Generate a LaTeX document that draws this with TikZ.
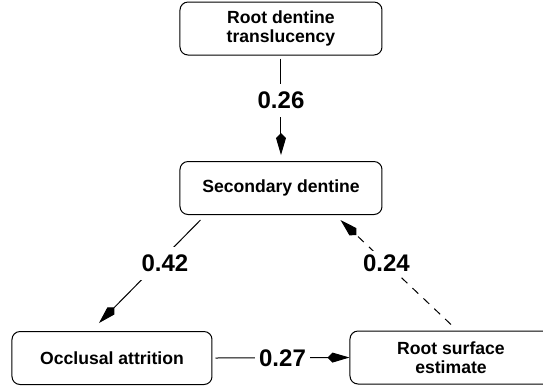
\documentclass[tikz,border=0pt]{standalone}
\usepackage{fontspec}
\setmainfont{Liberation Sans}
\usepackage{tikz}
\usetikzlibrary{positioning, arrows.meta}

\begin{document}
\begin{tikzpicture}[x=0.5pt, y=-0.5pt,
    box/.style={draw, rounded corners=4pt, line width=0.5pt, align=center, inner sep=0pt,
      font=\fontsize{8.8}{9.5}\selectfont\bfseries, minimum height=26.5pt},
    link/.style={line width=0.5pt, -{Kite[length=11pt, width=5pt, inset=2.5pt]}},
    val/.style={fill=white, font=\fontsize{12}{14}\selectfont\bfseries, inner xsep=1.5pt, inner ysep=4pt}]
    \useasboundingbox (0,0) rectangle (543,388);
    % Boxes
    \node[box, minimum width=101pt] (trans) at (281,28.5) {Root dentine\\translucency};
    \node[box, minimum width=101pt] (second) at (281,188) {Secondary dentine};
    \node[box, minimum width=100pt] (occl) at (112,358) {Occlusal attrition};
    \node[box, minimum width=101pt] (surf) at (451,357.5) {Root surface\\estimate};
    % Paths
    \draw[link] ([yshift=-1.5pt]trans.south) -- node[val, pos=0.43]{0.26} ([yshift=3pt]second.north);
    \draw[link] ([xshift=10.5pt, yshift=-2.5pt]second.south west) -- node[val, pos=0.42, xshift=3.5pt]{0.42} ([xshift=-6.5pt, yshift=4pt]occl.north);
    \draw[link, dash pattern=on 4pt off 3.5pt] ([yshift=3pt]surf.north) -- node[val, pos=0.585, inner ysep=2pt]{0.24} ([xshift=-21pt, yshift=-2.5pt]second.south east);
    \draw[link] ([xshift=1.5pt]occl.east) -- node[val, pos=0.5, inner xsep=2pt]{0.27} (surf.west);
\end{tikzpicture}
\end{document}
